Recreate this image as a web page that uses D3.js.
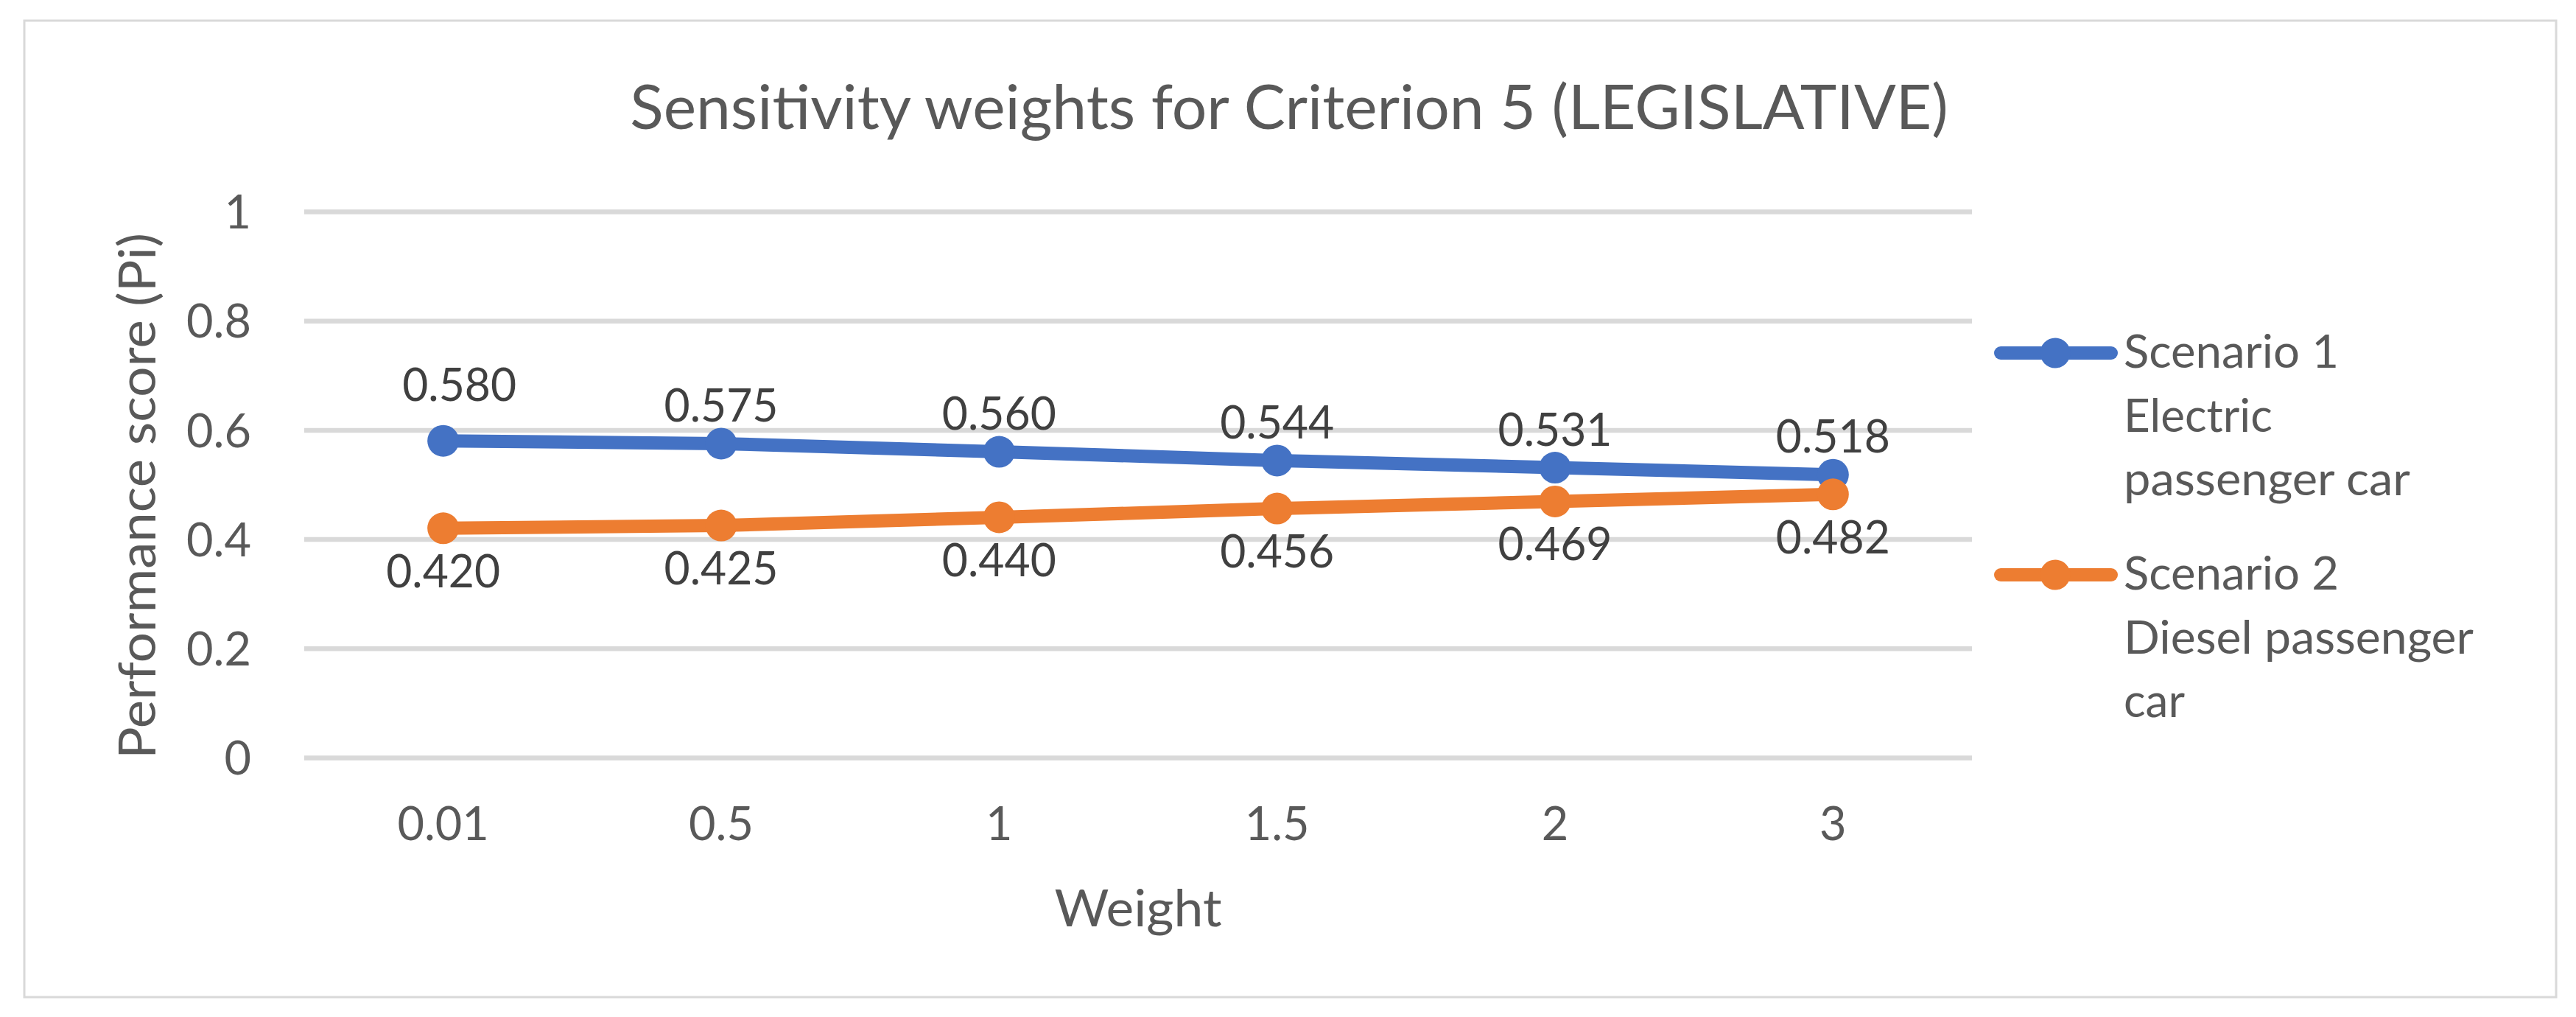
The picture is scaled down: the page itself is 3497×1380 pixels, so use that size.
<!DOCTYPE html>
<html>
<head>
<meta charset="utf-8">
<script src="https://cdn.jsdelivr.net/npm/d3@7"></script>
<style>
  html, body { margin: 0; padding: 0; background: #fff; }
  text { font-family: Lato, "Open Sans", sans-serif; }
</style>
</head>
<body>
<div id="chart"></div>
<script>
// values
var weights = ["0.01", "0.5", "1", "1.5", "2", "3"];
var scenario1 = [0.580, 0.575, 0.560, 0.544, 0.531, 0.518];
var scenario2 = [0.420, 0.425, 0.440, 0.456, 0.469, 0.482];
var yTicks = [0, 0.2, 0.4, 0.6, 0.8, 1];
var legend1 = ["Scenario 1", "Electric", "passenger car"];
var legend2 = ["Scenario 2", "Diesel passenger", "car"];
var titleText = "Sensitivity weights for Criterion 5 (LEGISLATIVE)";
var xTitle = "Weight";
var yTitle = "Performance score (Pi)";

var W = 3497, H = 1380;
var plot = { left: 413, right: 2677, top: 287, bottom: 1028 };
var grey = "#595959";

var svg = d3.select("#chart").append("svg")
	.attr("width", W).attr("height", H);

// chart border
svg.append("rect")
	.attr("x", 33).attr("y", 28)
	.attr("width", 3470 - 33).attr("height", 1353 - 28)
	.attr("fill", "#fff")
	.attr("stroke", "#d9d9d9").attr("stroke-width", 3);

var x = d3.scaleBand().domain(weights).range([plot.left, plot.right]).padding(0);
var y = d3.scaleLinear().domain([0, 1]).range([plot.bottom, plot.top]);
var cx = function (d, i) { return x(weights[i]) + x.bandwidth() / 2; };

// squeeze/stretch a text to the width it had in the original (Calibri vs Lato)
function fit(sel, target) {
	sel.each(function () {
		var len = this.getComputedTextLength();
		if (Math.abs(len - target) / target > 0.02) {
			d3.select(this).attr("textLength", target).attr("lengthAdjust", "spacingAndGlyphs");
		}
	});
}

// gridlines + y labels
var yAxis = svg.append("g")
	.attr("transform", "translate(" + plot.left + ",0)")
	.call(d3.axisLeft(y).tickValues(yTicks).tickSize(-(plot.right - plot.left)).tickPadding(72).tickFormat(function (d) { return String(d); }));
yAxis.select(".domain").remove();
yAxis.selectAll(".tick line").attr("stroke", "#d9d9d9").attr("stroke-width", 6.5);
yAxis.selectAll(".tick text")
	.attr("fill", grey).attr("font-size", 63)
	.attr("dy", "0.36em");

// x labels
var xAxis = svg.append("g")
	.attr("transform", "translate(0," + plot.bottom + ")")
	.call(d3.axisBottom(x).tickSize(0).tickPadding(0));
xAxis.select(".domain").remove();
xAxis.selectAll(".tick text")
	.attr("fill", grey).attr("font-size", 63)
	.attr("dy", 0).attr("y", 1140 - plot.bottom);

// titles
svg.append("text")
	.attr("x", 1750).attr("y", 175)
	.attr("text-anchor", "middle")
	.attr("fill", grey).attr("font-size", 84)
	.text(titleText)
	.call(fit, 1796);

svg.append("text")
	.attr("x", (plot.left + plot.right) / 2).attr("y", 1257)
	.attr("text-anchor", "middle")
	.attr("fill", grey).attr("font-size", 70)
	.text(xTitle)
	.call(fit, 227);

svg.append("text")
	.attr("transform", "translate(211,673) rotate(-90)")
	.attr("text-anchor", "middle")
	.attr("fill", grey).attr("font-size", 70)
	.text(yTitle)
	.call(fit, 714);

// series
var series = [
	{ values: scenario1, color: "#4472C4", labelDy: -30, legend: legend1, ly: 479, widths: [292, 0, 389] },
	{ values: scenario2, color: "#ED7D31", labelDy: 80, legend: legend2, ly: 780, widths: [292, 475, 0] }
];

var line = d3.line()
	.x(cx)
	.y(function (d) { return y(d); });

series.forEach(function (s) {
	var g = svg.append("g");
	g.append("path")
		.datum(s.values)
		.attr("d", line)
		.attr("fill", "none")
		.attr("stroke", s.color)
		.attr("stroke-width", 18)
		.attr("stroke-linejoin", "round");
	g.selectAll("circle")
		.data(s.values)
		.enter().append("circle")
		.attr("cx", cx)
		.attr("cy", function (d) { return y(d); })
		.attr("r", 21.5)
		.attr("fill", s.color);
});

// data labels drawn last so they sit over lines
series.forEach(function (s, si) {
	svg.append("g").selectAll("text")
		.data(s.values)
		.enter().append("text")
		.attr("x", function (d, i) {
			// first blue label was nudged up/right in the original
			return cx(d, i) + (si === 0 && i === 0 ? 22 : 0);
		})
		.attr("y", function (d, i) {
			return y(d) + s.labelDy + (si === 0 && i === 0 ? -24 : 0);
		})
		.attr("text-anchor", "middle")
		.attr("fill", "#404040")
		.attr("font-size", 62)
		.text(function (d) { return d3.format(".3f")(d); })
		.call(fit, 155);
});

// legend
series.forEach(function (s) {
	var lg = svg.append("g");
	lg.append("line")
		.attr("x1", 2716).attr("x2", 2866)
		.attr("y1", s.ly).attr("y2", s.ly)
		.attr("stroke", s.color).attr("stroke-width", 18)
		.attr("stroke-linecap", "round");
	lg.append("circle")
		.attr("cx", 2790).attr("cy", s.ly).attr("r", 20.5)
		.attr("fill", s.color);
	lg.selectAll("text")
		.data(s.legend)
		.enter().append("text")
		.attr("fill", grey).attr("font-size", 62)
		.attr("x", 2883)
		.attr("y", function (d, i) { return s.ly + 20 + i * 86.5; })
		.text(function (d) { return d; })
		.each(function (d, i) {
			if (s.widths[i]) d3.select(this).call(fit, s.widths[i]);
		});
});
</script>
</body>
</html>
